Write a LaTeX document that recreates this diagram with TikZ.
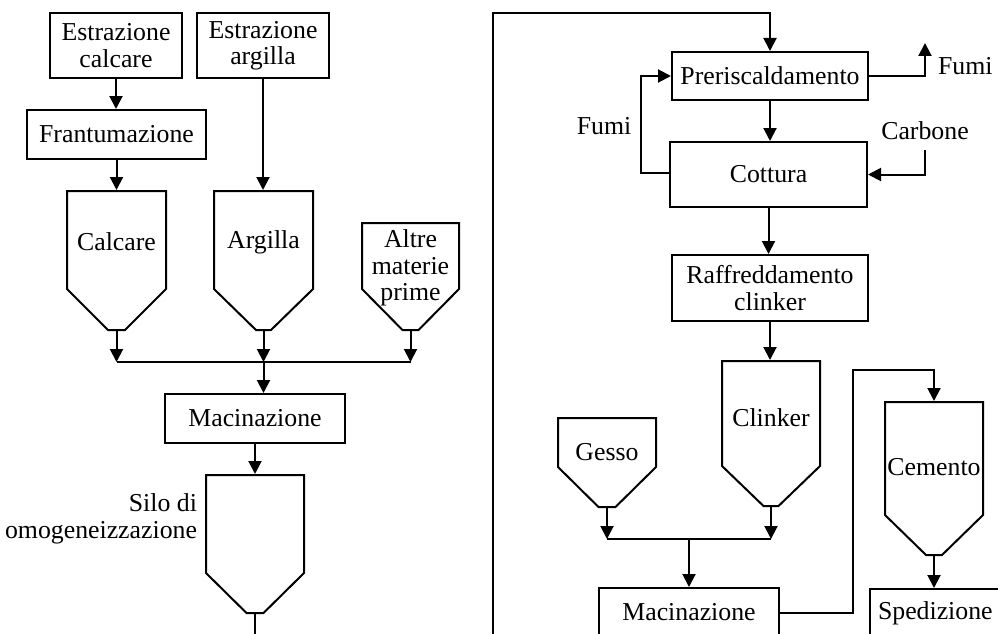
\documentclass[tikz,border=0pt]{standalone}
\usepackage{fontspec}
\setmainfont{Liberation Serif}
\usetikzlibrary{arrows.meta}
\newcommand\silo[7]{%
 \node[draw=none, inner sep=0pt, minimum width={2*#3}, minimum height={#6-#4}] (#1) at (#2,{(#4+#6)/2}) {};
 \draw ({#2-#3},#4) -- ({#2-#3},#5) -- ({#2-#7},#6) -- ({#2+#7},#6) -- ({#2+#3},#5) -- ({#2+#3},#4) -- cycle;}
\begin{document}
\begin{tikzpicture}[x=1pt,y=-1pt, line width=2pt,
 font=\fontsize{25.8}{26.5}\selectfont,
 box/.style={draw, inner sep=0pt, align=center},
 arr/.style={-{Triangle[length=13pt,width=13pt]}},
 lbl/.style={inner sep=0pt, align=center}]
\clip (0,0) rectangle (998,634);
% boxes
\node[box, minimum width=132pt, minimum height=65pt] (ec) at (116,45.5) {Estrazione\\calcare};
\node[box, minimum width=132pt, minimum height=65pt] (ea) at (263,45.5) {Estrazione\\argilla};
\node[box, minimum width=179pt, minimum height=49pt] (fr) at (116.5,134.5) {Frantumazione};
\node[box, minimum width=180pt, minimum height=49pt] (mac1) at (255,418.5) {Macinazione};
\node[box, minimum width=196pt, minimum height=48pt] (pre) at (770,76) {Preriscaldamento};
\node[box, minimum width=197pt, minimum height=65pt] (cot) at (768.5,174.5) {Cottura};
\node[box, minimum width=196pt, minimum height=66pt] (raf) at (770,288) {Raffreddamento\\clinker};
\node[box, minimum width=180pt, minimum height=49pt] (mac2) at (689,612.5) {Macinazione};
\node[box, anchor=north west, minimum height=49pt, text width=125pt, align=left, inner xsep=8pt] (sped) at (869,588) {Spedizione};
% silos
\silo{calc}{116.5}{49.5}{191}{289}{330}{8.5}
\silo{arg}{263.5}{49.5}{191}{289}{330}{7.5}
\silo{alt}{410.5}{48.5}{223}{289}{330}{8}
\silo{omo}{255}{49}{475}{573}{613}{8.5}
\silo{clk}{771}{49}{361}{466}{506}{7.5}
\silo{ges}{607}{49}{418}{467}{507}{8.5}
\silo{cem}{934}{49}{402}{515}{555}{8}
% texts
\node[lbl] (tcalc) at (116.5,242) {Calcare};
\node[lbl] (targ) at (263.5,242) {Argilla};
\node[lbl] (talt) at (410.5,268) {Altre\\materie\\prime};
\node[lbl] (tclk) at (771,418) {Clinker};
\node[lbl] (tges) at (607,452) {Gesso};
\node[lbl] (tcem) at (934,467) {Cemento};
\node[lbl, align=right, anchor=east] (tomo) at (198,519) {Silo di\\omogeneizzazione};
\node[lbl, anchor=west] (fumi1) at (937,66) {Fumi};
\node[lbl] (fumi2) at (604,126) {Fumi};
\node[lbl] (carb) at (925,131) {Carbone};
% coordinates
\coordinate (j1) at (263.5,362);
\coordinate (omoout) at (255,645);
\coordinate (bl) at (493,645);
\coordinate (tl) at (493,13);
\coordinate (fumup) at (925,43);
\coordinate (fl) at (641,173);
\coordinate (j2) at (689,539);
\coordinate (rt) at (853,370);
% connectors left
\draw[arr] (ec.south) -- (ec.south |- fr.north);
\draw[arr] (fr.south) -- (calc.north);
\draw[arr] (ea.south) -- (ea.south |- arg.north);
\draw[arr] (calc.south) -- (calc.south |- j1);
\draw[arr] (arg.south) -- (j1);
\draw[arr] (alt.south) -- (alt.south |- j1);
\draw (calc.south |- j1) -- (alt.south |- j1);
\draw[arr] (j1) -- (j1 |- mac1.north);
\draw[arr] (mac1.south) -- (omo.north);
\draw (omo.south) -- (omoout);
% connectors right
\draw[arr] (bl) -- (tl) -| (pre.north);
\draw[arr] (pre.south) -- (pre.south |- cot.north);
\draw[arr] (pre.east) -| (fumup);
\draw[arr] (cot.west |- fl) -- (fl) |- (pre.west);
\draw[arr] ([yshift=-9pt]carb.south) |- (cot.east);
\draw[arr] (cot.south) -- (cot.south |- raf.north);
\draw[arr] (raf.south) -- (raf.south |- clk.north);
\draw[arr] (ges.south) -- (ges.south |- j2);
\draw[arr] (clk.south) -- (clk.south |- j2);
\draw (ges.south |- j2) -- (clk.south |- j2);
\draw[arr] (j2) -- (j2 |- mac2.north);
\draw[arr] (mac2.east) -| (rt) -| (cem.north);
\draw[arr] (cem.south) -- (cem.south |- sped.north);
\end{tikzpicture}
\end{document}
